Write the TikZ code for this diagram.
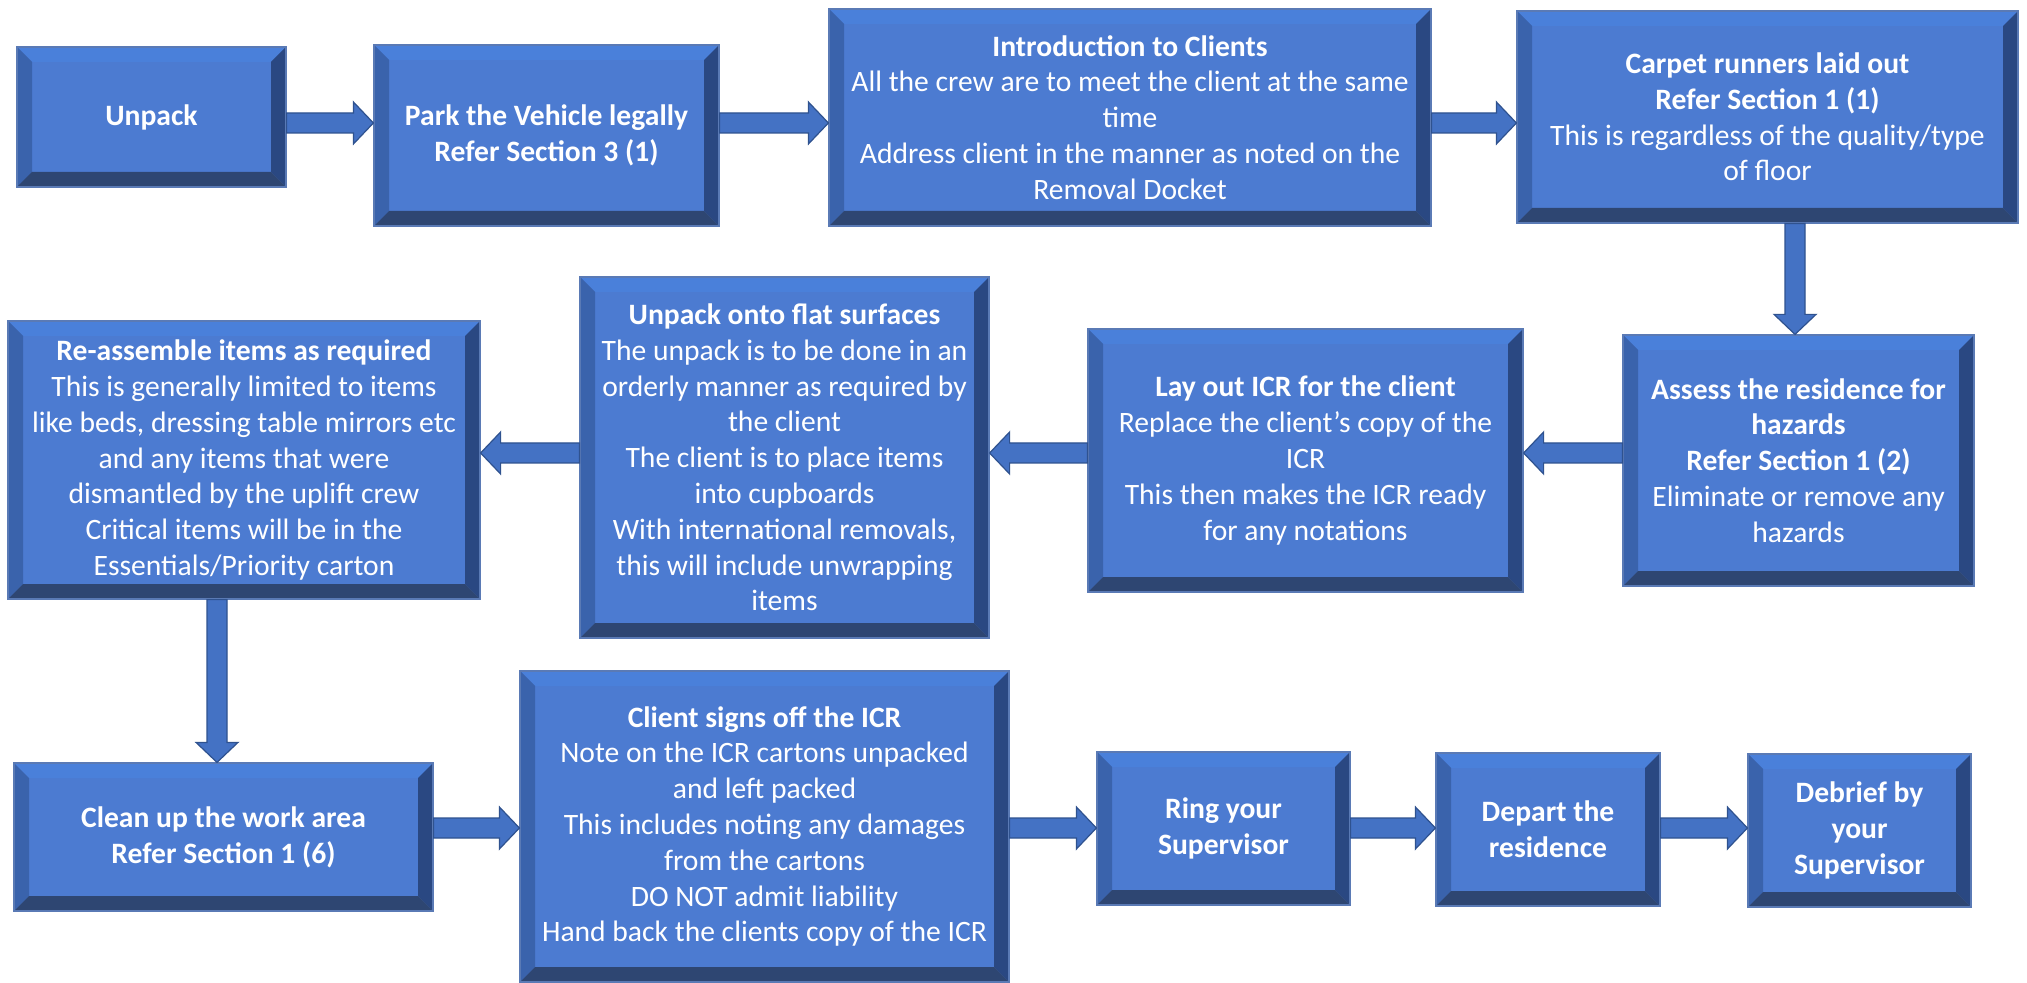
\documentclass[tikz,border=0pt]{standalone}
\usepackage{fontspec}
\setmainfont{Carlito}
\usetikzlibrary{calc}
\definecolor{face}{HTML}{4C7BD1}
\definecolor{bvtopc}{HTML}{4A80DA}
\definecolor{bvleftc}{HTML}{3A63AC}
\definecolor{bvrightc}{HTML}{2A4882}
\definecolor{bvbotc}{HTML}{2E4672}
\definecolor{edgec}{HTML}{5A7AB5}
\definecolor{arrfill}{HTML}{4472C4}
\definecolor{arredge}{HTML}{2F528F}
\newcommand\bxfont{\fontsize{14.8}{17.9}\selectfont}
\newcommand\bvw{7.5pt}
\newcommand\hconn[2]{\filldraw[conn] let \p1=#1, \p2=#2, \n1={sign(\x2-\x1)*10} in
  (\x1,\y1+5pt) -- ({\x2-(\n1)},\y1+5pt) -- ({\x2-(\n1)},\y1+10.5pt) -- (\x2,\y1)
  -- ({\x2-(\n1)},\y1-10.5pt) -- ({\x2-(\n1)},\y1-5pt) -- (\x1,\y1-5pt) -- cycle;}
\newcommand\vconn[2]{\filldraw[conn] let \p1=#1, \p2=#2, \n1={sign(\y2-\y1)*10} in
  (\x1+5pt,\y1) -- (\x1+5pt,{\y2-(\n1)}) -- (\x1+10.5pt,{\y2-(\n1)}) -- (\x1,\y2)
  -- (\x1-10.5pt,{\y2-(\n1)}) -- (\x1-5pt,{\y2-(\n1)}) -- (\x1-5pt,\y1) -- cycle;}
\tikzset{
  conn/.style={fill=arrfill, draw=arredge, line width=0.6pt, line join=miter},
  bx/.style 2 args={minimum width=#1*0.5pt, minimum height=#2*0.5pt},
  bevbox/.style={rectangle, fill=face, draw=edgec, line width=0.6pt, text=white,
    align=center, font=\bxfont, inner sep=0pt,
    path picture={
      \fill[bvtopc] let \p1=(path picture bounding box.south west), \p2=(path picture bounding box.north east) in
        (\x1,\y2) -- (\x2,\y2) -- (\x2-\bvw,\y2-\bvw) -- (\x1+\bvw,\y2-\bvw) -- cycle;
      \fill[bvleftc] let \p1=(path picture bounding box.south west), \p2=(path picture bounding box.north east) in
        (\x1,\y2) -- (\x1+\bvw,\y2-\bvw) -- (\x1+\bvw,\y1+\bvw) -- (\x1,\y1) -- cycle;
      \fill[bvrightc] let \p1=(path picture bounding box.south west), \p2=(path picture bounding box.north east) in
        (\x2,\y2) -- (\x2-\bvw,\y2-\bvw) -- (\x2-\bvw,\y1+\bvw) -- (\x2,\y1) -- cycle;
      \fill[bvbotc] let \p1=(path picture bounding box.south west), \p2=(path picture bounding box.north east) in
        (\x1,\y1) -- (\x1+\bvw,\y1+\bvw) -- (\x2-\bvw,\y1+\bvw) -- (\x2,\y1) -- cycle;
    }}
}
\begin{document}
\begin{tikzpicture}[x=0.5pt,y=-0.5pt]
\useasboundingbox[fill=white] (0,0) rectangle (2027,983);
\coordinate (ya) at (0,123);
\coordinate (yb) at (0,453);
\coordinate (yc) at (0,828);
\coordinate (xa) at (1795,0);
\coordinate (xb) at (217,0);
% row 1
\node[bevbox, bx={269}{140}] (unpack) at (151.5,117) {\textbf{Unpack}};
\node[bevbox, bx={345}{181}] (park) at (546.5,135.5) {\textbf{Park the Vehicle legally}\\\textbf{Refer Section 3 (1)}};
\node[bevbox, bx={602}{217}] (intro) at (1130,117.5) {\textbf{Introduction to Clients}\\All the crew are to meet the client at the same\\time\\Address client in the manner as noted on the\\Removal Docket};
\node[bevbox, bx={501}{212}] (carpet) at (1767.5,117) {\textbf{Carpet runners laid out}\\\textbf{Refer Section 1 (1)}\\This is regardless of the quality/type\\of floor};
% row 2
\node[bevbox, bx={351}{251}] (assess) at (1798.5,460.5) {\textbf{Assess the residence for}\\\textbf{hazards}\\\textbf{Refer Section 1 (2)}\\Eliminate or remove any\\hazards};
\node[bevbox, bx={435}{263}] (layout) at (1305.5,460.5) {\textbf{Lay out ICR for the client}\\Replace the client’s copy of the\\ICR\\This then makes the ICR ready\\for any notations};
\node[bevbox, bx={409}{361}] (flat) at (784.5,457.5) {\textbf{Unpack onto flat surfaces}\\The unpack is to be done in an\\orderly manner as required by\\the client\\The client is to place items\\into cupboards\\With international removals,\\this will include unwrapping\\items};
\node[bevbox, bx={472}{278}] (reasm) at (244,460) {\textbf{Re-assemble items as required}\\This is generally limited to items\\like beds, dressing table mirrors etc\\and any items that were\\dismantled by the uplift crew\\Critical items will be in the\\Essentials/Priority carton};
% row 3
\node[bevbox, bx={419}{148}] (clean) at (223.5,837) {\textbf{Clean up the work area}\\\textbf{Refer Section 1 (6)}};
\node[bevbox, bx={489}{311}] (client) at (764.5,826.5) {\textbf{Client signs off the ICR}\\Note on the ICR cartons unpacked\\and left packed\\This includes noting any damages\\from the cartons\\DO NOT admit liability\\Hand back the clients copy of the ICR};
\node[bevbox, bx={253}{153}] (ring) at (1223.5,828.5) {\textbf{Ring your}\\\textbf{Supervisor}};
\node[bevbox, bx={224}{153}] (depart) at (1548,829.5) {\textbf{Depart the}\\\textbf{residence}};
\node[bevbox, bx={223}{153}] (debrief) at (1859.5,830.5) {\textbf{Debrief by}\\\textbf{your}\\\textbf{Supervisor}};
% connectors
\hconn{(unpack.east |- ya)}{(park.west |- ya)}
\hconn{(park.east |- ya)}{(intro.west |- ya)}
\hconn{(intro.east |- ya)}{(carpet.west |- ya)}
\vconn{(carpet.south -| xa)}{(assess.north -| xa)}
\hconn{(assess.west |- yb)}{(layout.east |- yb)}
\hconn{(layout.west |- yb)}{(flat.east |- yb)}
\hconn{(flat.west |- yb)}{(reasm.east |- yb)}
\vconn{(reasm.south -| xb)}{(clean.north -| xb)}
\hconn{(clean.east |- yc)}{(client.west |- yc)}
\hconn{(client.east |- yc)}{(ring.west |- yc)}
\hconn{(ring.east |- yc)}{(depart.west |- yc)}
\hconn{(depart.east |- yc)}{(debrief.west |- yc)}
\end{tikzpicture}
\end{document}
